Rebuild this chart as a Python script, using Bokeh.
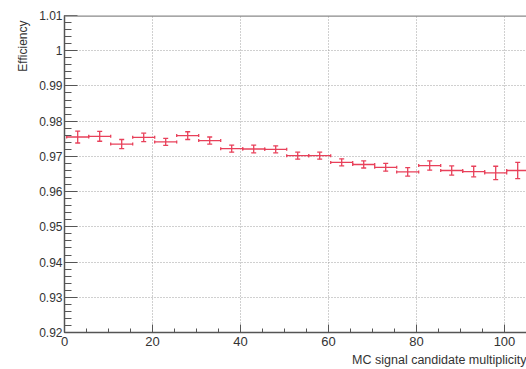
import numpy as np
from bokeh.plotting import figure
from bokeh.models import (ColumnDataSource, Whisker, TeeHead, FixedTicker, Title, Span)
from bokeh.embed import file_html
from bokeh.resources import INLINE

# ---- data ----
multiplicity = [3, 8, 13, 18, 23, 28, 33, 38, 43, 48, 53, 58, 63, 68, 73, 78, 83, 88, 93, 98, 103]
efficiency = [0.9755, 0.9757, 0.9735, 0.9754, 0.9741, 0.9759, 0.9745, 0.9722, 0.9721, 0.9720,
              0.9702, 0.9702, 0.9683, 0.9677, 0.9669, 0.9656, 0.9674, 0.9660, 0.9657, 0.9653, 0.9660]
eff_error = [0.0017, 0.0014, 0.0013, 0.0012, 0.0010, 0.0011, 0.0010, 0.0010, 0.0011, 0.0010,
             0.0010, 0.0010, 0.0010, 0.0010, 0.0011, 0.0012, 0.0013, 0.0013, 0.0015, 0.0019, 0.0023]
bin_half_width = 2.5

x_ticks = [0, 20, 40, 60, 80, 100]
x_minor = [v for v in range(0, 106, 5)]
y_ticks = [0.92, 0.93, 0.94, 0.95, 0.96, 0.97, 0.98, 0.99, 1.0, 1.01]
y_tick_labels = ["0.92", "0.93", "0.94", "0.95", "0.96", "0.97", "0.98", "0.99", "1", "1.01"]
y_minor = [round(0.92 + 0.002 * i, 3) for i in range(46)]

x_title = "MC signal candidate multiplicity"
y_title = "Efficiency"

FONT = "Liberation Sans"
RED = "#e8405a"

src = ColumnDataSource(dict(
    x=multiplicity,
    y=efficiency,
    lo=[e - d for e, d in zip(efficiency, eff_error)],
    hi=[e + d for e, d in zip(efficiency, eff_error)],
    xl=[m - bin_half_width for m in multiplicity],
    xr=[m + bin_half_width for m in multiplicity],
))

p = figure(width=526, height=369, x_range=(0, 105), y_range=(0.92, 1.01),
           output_backend="svg", toolbar_location=None,
           min_border_left=64, min_border_right=0, min_border_top=15, min_border_bottom=37)
p.outline_line_color = None
p.background_fill_color = "white"
p.border_fill_color = "white"

# axes styling (ROOT style: ticks inside)
for ax in (p.xaxis[0], p.yaxis[0]):
    ax.axis_line_color = "#555555"
    ax.axis_line_width = 1.5
    ax.major_tick_line_color = "#555555"
    ax.minor_tick_line_color = "#555555"
    ax.major_tick_out = 0
    ax.minor_tick_out = 0
    ax.major_label_text_font = FONT
    ax.major_label_text_color = "#333333"

p.xaxis[0].ticker = FixedTicker(ticks=x_ticks, minor_ticks=x_minor)
p.xaxis[0].major_tick_in = 8
p.xaxis[0].minor_tick_in = 4
p.xaxis[0].major_label_text_font_size = "13px"
p.xaxis[0].major_label_standoff = 4

p.yaxis[0].ticker = FixedTicker(ticks=y_ticks, minor_ticks=y_minor)
p.yaxis[0].major_tick_in = 13
p.yaxis[0].minor_tick_in = 7
p.yaxis[0].major_label_text_font_size = "12px"
p.yaxis[0].major_label_standoff = 2
p.yaxis[0].major_label_overrides = {v: s for v, s in zip(y_ticks, y_tick_labels)}

p.xgrid[0].ticker = FixedTicker(ticks=x_ticks[1:])
p.ygrid[0].ticker = FixedTicker(ticks=y_ticks[1:-1])
for g in (p.xgrid[0], p.ygrid[0]):
    g.grid_line_color = "#a0a0a0"
    g.grid_line_dash = "1 2"
    g.grid_line_width = 1

# top frame line
p.add_layout(Span(location=1.01, dimension="width", line_color="#8a8a8a", line_width=2.5))

# error bars
p.add_layout(Whisker(source=src, base="x", lower="lo", upper="hi", dimension="height",
                     line_color=RED, line_width=1.3,
                     lower_head=TeeHead(size=5, line_color=RED, line_width=1.3),
                     upper_head=TeeHead(size=5, line_color=RED, line_width=1.3)))
p.add_layout(Whisker(source=src, base="y", lower="xl", upper="xr", dimension="width",
                     line_color=RED, line_width=1.3,
                     lower_head=TeeHead(size=3, line_color=RED, line_width=1.3),
                     upper_head=TeeHead(size=3, line_color=RED, line_width=1.3)))

# axis titles (ROOT style: right/top aligned)
p.add_layout(Title(text=y_title, align="right", text_font=FONT, text_font_size="12px",
                   text_font_style="normal", text_color="#333333", standoff=14, offset=5), "left")
p.add_layout(Title(text=x_title, align="right", text_font=FONT, text_font_size="12.5px",
                   text_font_style="normal", text_color="#333333", standoff=5), "below")

open("out.html", "w").write(file_html(p, INLINE))
